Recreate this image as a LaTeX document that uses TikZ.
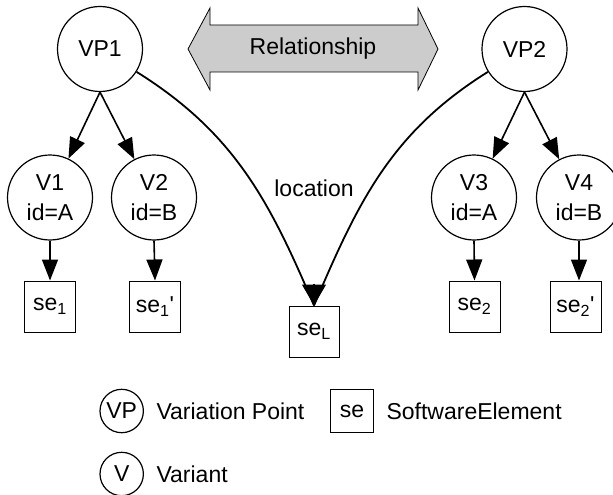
\documentclass[tikz,border=0pt]{standalone}
\usepackage{fontspec}
\setmainfont{Liberation Sans}
\usetikzlibrary{arrows.meta}
\definecolor{relgray}{RGB}{204,204,204}
\begin{document}
\begin{tikzpicture}[x=1pt,y=-1pt,
  every node/.style={font=\fontsize{23}{30}\selectfont},
  circ/.style={draw, circle, line width=1.2pt, minimum size=85pt, inner sep=0pt, align=center},
  lcirc/.style={draw, circle, line width=1.2pt, minimum size=43.4pt, inner sep=0pt},
  sebox/.style={draw, rectangle, line width=1pt, minimum width=51pt, minimum height=51pt, inner sep=0pt},
  lbox/.style={draw, rectangle, line width=1pt, minimum width=43pt, minimum height=43pt, inner sep=0pt},
  arr/.style={line width=1.6pt, -{Triangle[length=21pt,width=16pt]}},
  curveline/.style={line width=1.8pt},
  headarr/.style={line width=1.2pt, -{Triangle[length=21pt,width=24pt]}},
  relarrow/.style={draw, fill=relgray, line width=0.8pt, line join=miter}
]
\useasboundingbox (0,0) rectangle (613,495);
\clip (0,0) rectangle (613,495);

% Relationship double arrow
\draw[relarrow] (188,49) -- (210,8) -- (210,25) -- (418,25) -- (418,8) -- (438,49)
  -- (418,90) -- (418,72) -- (210,72) -- (210,90) -- cycle;
\node (rel) at (313,48.5) {Relationship};

% variation points
\node[circ] (vp1) at (100,49) {VP1};
\node[circ] (vp2) at (524.5,49) {VP2};

% variants
\node[circ] (v1) at (50,197.5) {V1\\id=A};
\node[circ] (v2) at (154,197.5) {V2\\id=B};
\node[circ] (v3) at (474,197.5) {V3\\id=A};
\node[circ] (v4) at (579,197.5) {V4\\id=B};

% software elements
\node[sebox] (se1) at (50,306.5) {se\textsubscript{1}};
\node[sebox] (se1p) at (155,306.5) {se\textsubscript{1}\textquotesingle};
\node[sebox] (se2) at (474.5,306.5) {se\textsubscript{2}};
\node[sebox] (se2p) at (575.5,306.5) {se\textsubscript{2}\textquotesingle};
\node[sebox, minimum width=50pt] (seL) at (314,331.5) {se\textsubscript{L}};

% arrows VP -> V
\draw[arr] (vp1.south) -- (v1);
\draw[arr] (vp1.south) -- (v2);
\draw[arr] (vp2.south) -- (v3);
\draw[arr] (vp2.south) -- (v4);

% arrows V -> se
\draw[arr] (v1.south) -- (se1.north);
\draw[arr] (v2.south) -- (se1p.north);
\draw[arr] (v3.south) -- (se2.north);
\draw[arr] (v4.south) -- (v4.south |- se2p.north);

% location curves
\draw[curveline] (vp1.-32) to[out=-32,in=113] (seL.north);
\draw[curveline] (vp2.-148) to[out=-148,in=67] (seL.north);
\path (seL.north) ++(0,-22) coordinate (hb);
\draw[headarr] (hb) -- (seL.north);
\node (loc) at (314,188) {location};

% legend
\node[lcirc] (lvp) at (121.7,411) {VP};
\node[anchor=west] (lvpt) at (153,411) {Variation Point};
\node[lbox] (lse) at (352,411) {se};
\node[anchor=west] (lset) at (383,411) {SoftwareElement};
\node[lcirc] (lv) at (121.7,474) {V};
\node[anchor=west] (lvt) at (153,474) {Variant};
\end{tikzpicture}
\end{document}
